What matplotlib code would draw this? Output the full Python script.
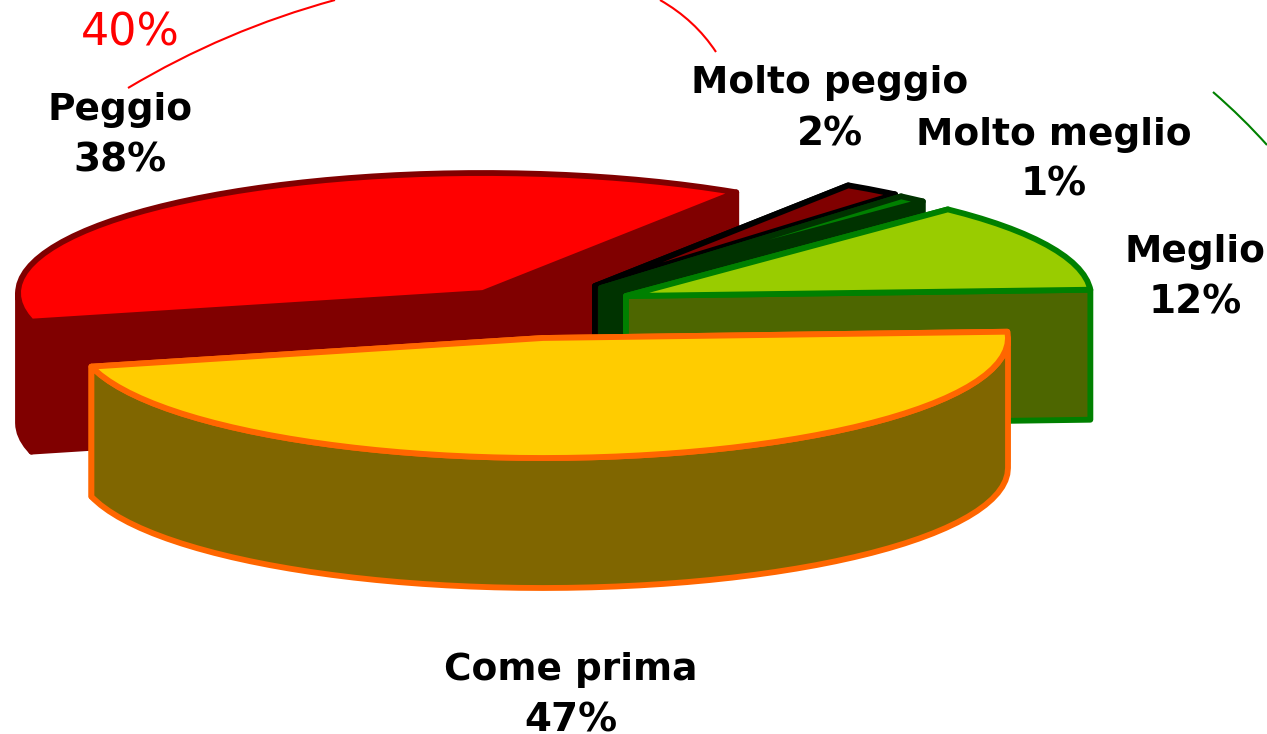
import numpy as np
import matplotlib
matplotlib.use('Agg')
import matplotlib.pyplot as plt
from matplotlib.patches import Polygon, PathPatch
from matplotlib.path import Path

# chart data, clockwise from the right hand side
categories = ['Come prima', 'Peggio', 'Molto peggio', 'Molto meglio', 'Meglio']
values = [47, 38, 2, 1, 12]

# slice styles and exploded centres (pixels)
top_colors = ['#FFCC00', '#FF0000', '#800000', '#008000', '#99CC00']
side_colors = ['#806600', '#800000', '#800000', '#003300', '#4D6600']
edge_colors = ['#FF6600', '#800000', '#000000', '#003300', '#008000']
centers = [(543, 338), (483, 293), (595, 286), (601, 288), (626, 296)]
label_pos = [(571, 680, 732), (120, 120, 172), (830, 93, 145), (1054, 145, 196), (1195, 262, 314)]

# hand drawn notes that sit round the pie: start, control, end
note_red_left = [(128, 88), (225, 30), (335, 0)]
note_red_right = [(660, 0), (695, 20), (716, 52)]
note_green = [(1213, 92), (1243, 118), (1267, 145)]

RX = 465
RY = 120
DEPTH = 130
START = 3
LW = 4.2


def rim(cx, cy, t):
    t = np.radians(t)
    return cx + RX*np.cos(t), cy - RY*np.sin(t)


def arc_points(cx, cy, t0, t1):
    # faceted like the original metafile
    ts = np.arange(t0, t1, -3.0)
    ts = np.append(ts, t1)
    x, y = rim(cx, cy, ts)
    return np.column_stack([x, y])


def note(ax, pts, color):
    path = Path(pts, [Path.MOVETO, Path.CURVE3, Path.CURVE3])
    ax.add_patch(PathPatch(path, facecolor='none', edgecolor=color, lw=1.5))


fig = plt.figure(figsize=(12.67, 7.34), dpi=100)
ax = fig.add_axes([0, 0, 1, 1])
ax.set_xlim(0, 1267)
ax.set_ylim(734, 0)
ax.axis('off')

# paint order is back slices first, the big one last
angles = START - np.cumsum([0] + values)*3.6
order = [1, 2, 3, 4, 0]
for i in order:
    t0, t1 = angles[i], angles[i+1]
    cx, cy = centers[i]
    style = dict(facecolor=side_colors[i], edgecolor=edge_colors[i], lw=LW, joinstyle='round')
    for t in [t0, t1]:
        x, y = rim(cx, cy, t)
        ax.add_patch(Polygon([(cx, cy), (x, y), (x, y+DEPTH), (cx, cy+DEPTH)], **style))
    hi, lo = min(t0, 0), max(t1, -180)
    if hi > lo:
        pts = arc_points(cx, cy, hi, lo)
        low = pts[::-1] + [0, DEPTH]
        ax.add_patch(Polygon(np.vstack([pts, low]), **style))
    top = np.vstack([[(cx, cy)], arc_points(cx, cy, t0, t1)])
    ax.add_patch(Polygon(top, facecolor=top_colors[i], edgecolor=edge_colors[i], lw=LW, joinstyle='round'))

for name, v, (x, y1, y2) in zip(categories, values, label_pos):
    ax.text(x, y1, name, ha='center', va='baseline', fontsize=27, fontweight='bold', color='k')
    ax.text(x, y2, '%d%%' % v, ha='center', va='baseline', fontsize=28, fontweight='bold', color='k')

note(ax, note_red_left, '#FF0000')
note(ax, note_red_right, '#FF0000')
note(ax, note_green, '#008000')
ax.text(130, 46, '40%', ha='center', va='baseline', fontsize=32, color='#FF0000')

fig.savefig('out.png', dpi=100, facecolor='w')
